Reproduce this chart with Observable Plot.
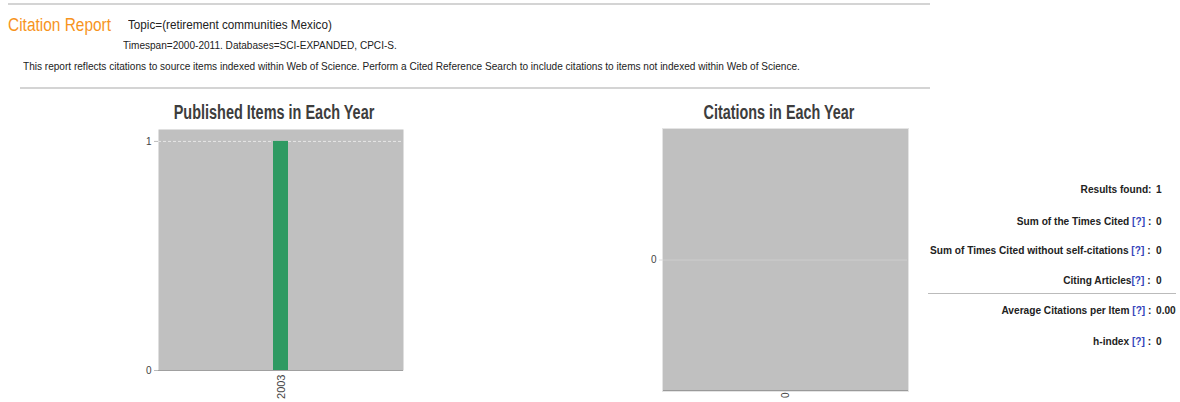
<!DOCTYPE html>
<html>
<head>
<meta charset="utf-8">
<script src="https://cdn.jsdelivr.net/npm/d3@7"></script>
<script src="https://cdn.jsdelivr.net/npm/@observablehq/plot@0.6"></script>
<style>
  html, body { margin: 0; padding: 0; background: #fff; }
  body { width: 1180px; height: 402px; position: relative; overflow: hidden;
         font-family: "Liberation Sans", Arial, sans-serif; color: #333; }
  .abs { position: absolute; white-space: nowrap; line-height: 1; }
  .hr { position: absolute; height: 2px; background: #d4d4d4; }
  .title { font-weight: bold; font-size: 20px; color: #3d3d3d; }
  .stat { font-weight: bold; font-size: 10.5px; color: #222; }
  .q { color: #3344bb; }
  .chart { position: absolute; }
</style>
</head>
<body>
<div class="hr" style="left:8px; top:3px; width:922px;"></div>
<div class="abs fit" id="rep" data-w="103" style="left:8px; top:15.7px; font-size:18px; color:#f7941d;"></div>
<div class="abs fit" id="topic" data-w="204" style="left:128px; top:19.4px; font-size:12.5px; color:#222;"></div>
<div class="abs fit" id="span" data-w="274" style="left:123px; top:40.3px; font-size:10.5px; color:#222;"></div>
<div class="abs fit" id="note" data-w="777" style="left:23px; top:61.3px; font-size:11px; color:#222;"></div>
<div class="hr" style="left:20px; top:87px; width:910px;"></div>

<div class="abs title center" id="t1" data-w="201" style="left:273.5px; top:102.4px;"></div>
<div class="abs title center" id="t2" data-w="151" style="left:778.5px; top:102.4px;"></div>

<div class="chart" id="c1" style="left:130px; top:125px;"></div>
<div class="chart" id="c2" style="left:630px; top:125px;"></div>

<div class="abs" style="left:928px; top:293px; width:248px; height:1px; background:#bbb;"></div>
<div id="stats"></div>

<script>
// ---- data ----
const pubYears = ["2003"];
const pubCounts = [1];
const citeYears = ["0"];
const citeCounts = [0];
const pubTicks = [0, 1];
const citeTicks = [0];

const headerTitle = "Citation Report";
const topicText = "Topic=(retirement communities Mexico)";
const spanText = "Timespan=2000-2011. Databases=SCI-EXPANDED, CPCI-S.";
const noteText = "This report reflects citations to source items indexed within Web of Science. Perform a Cited Reference Search to include citations to items not indexed within Web of Science.";
const chartTitles = ["Published Items in Each Year", "Citations in Each Year"];

const statLabels = ["Results found", "Sum of the Times Cited", "Sum of Times Cited without self-citations", "Citing Articles", "Average Citations per Item", "h-index"];
const statHelp = [false, true, true, true, true, true];
const statValues = ["1", "0", "0", "0", "0.00", "0"];
const statTops = [183.6, 216, 244.6, 274.6, 305.3, 336];

document.getElementById("rep").textContent = headerTitle;
document.getElementById("topic").textContent = topicText;
document.getElementById("span").textContent = spanText;
document.getElementById("note").textContent = noteText;
document.getElementById("t1").textContent = chartTitles[0];
document.getElementById("t2").textContent = chartTitles[1];

// horizontal fit of text (source rendering is condensed)
document.querySelectorAll(".fit").forEach(el => {
  const s = (+el.dataset.w) / el.offsetWidth;
  el.style.transformOrigin = "left center";
  el.style.transform = `scaleX(${s})`;
});
document.querySelectorAll(".center").forEach(el => {
  const s = (+el.dataset.w) / el.offsetWidth;
  el.style.transformOrigin = "center center";
  el.style.transform = `translateX(-50%) scaleX(${s})`;
});

// stats
const st = document.getElementById("stats");
const labs = [];
statLabels.forEach((l, i) => {
  const lab = document.createElement("div");
  lab.className = "abs stat";
  lab.style.right = (1180 - 1151) + "px";
  lab.style.top = statTops[i] + "px";
  lab.style.transformOrigin = "right center";
  lab.innerHTML = l + (statHelp[i] ? (i === 3 ? "" : " ") + '<span class="q">[?]</span>&nbsp;:' : ":");
  st.appendChild(lab);
  labs.push(lab);
  const v = document.createElement("div");
  v.className = "abs stat";
  v.style.left = "1156px";
  v.style.top = statTops[i] + "px";
  v.style.transformOrigin = "left center";
  v.textContent = statValues[i];
  st.appendChild(v);
  labs.push(v);
});
const statScale = 221 / labs[4].offsetWidth;
labs.forEach(el => el.style.transform = `scaleX(${statScale})`);

const pubData = pubYears.map((y, i) => ({year: y, count: pubCounts[i]}));
const citeData = citeYears.map((y, i) => ({year: y, count: citeCounts[i]}));

const axisFont = {fontSize: 10, fill: "#444"};

const c1 = Plot.plot({
  width: 280, height: 277,
  marginLeft: 28, marginRight: 7, marginTop: 4, marginBottom: 32,
  style: {fontFamily: "Liberation Sans, Arial, sans-serif", fontSize: "10px", color: "#444", background: "transparent"},
  x: {domain: pubYears, paddingInner: 0.5, paddingOuter: 3.83, label: null},
  y: {domain: [0, 1.052], label: null},
  marks: [
    Plot.frame({fill: "#c0c0c0", stroke: null}),
    Plot.ruleY([1], {stroke: "#e6e6e6", strokeDasharray: "3,2"}),
    Plot.barY(pubData, {x: "year", y: "count", fill: "#2e9a62"}),
    Plot.ruleY([0], {stroke: "#a0a0a0"}),
    Plot.axisY({ticks: pubTicks, tickFormat: d3.format("d"), tickSize: 4, tickPadding: 3, stroke: "#bbb", ...axisFont}),
    Plot.axisX({tickRotate: -90, tickSize: 0, tickPadding: 4, ...axisFont, fontSize: 11})
  ]
});
document.getElementById("c1").appendChild(c1);

const c2 = Plot.plot({
  width: 285, height: 277,
  marginLeft: 33, marginRight: 8, marginTop: 4, marginBottom: 12,
  style: {fontFamily: "Liberation Sans, Arial, sans-serif", fontSize: "10px", color: "#444", background: "transparent"},
  x: {domain: citeYears, paddingInner: 0.5, paddingOuter: 3.83, label: null},
  y: {domain: [-1, 1], label: null},
  marks: [
    Plot.frame({fill: "#c0c0c0", stroke: "#e4e4e4", inset: -1}),
    Plot.frame({fill: "#c0c0c0", stroke: null}),
    Plot.ruleY([0], {stroke: "#cdcdcd"}),
    Plot.barY(citeData, {x: "year", y: "count", fill: "#2e9a62"}),
    Plot.frame({anchor: "bottom", stroke: "#9a9a9a"}),
    Plot.axisY({ticks: citeTicks, tickFormat: d3.format("d"), tickSize: 4, tickPadding: 3, stroke: "#ddd", ...axisFont}),
    Plot.axisX({tickRotate: -90, tickSize: 0, tickPadding: 2, ...axisFont, fontSize: 10})
  ]
});
document.getElementById("c2").appendChild(c2);
</script>
</body>
</html>
